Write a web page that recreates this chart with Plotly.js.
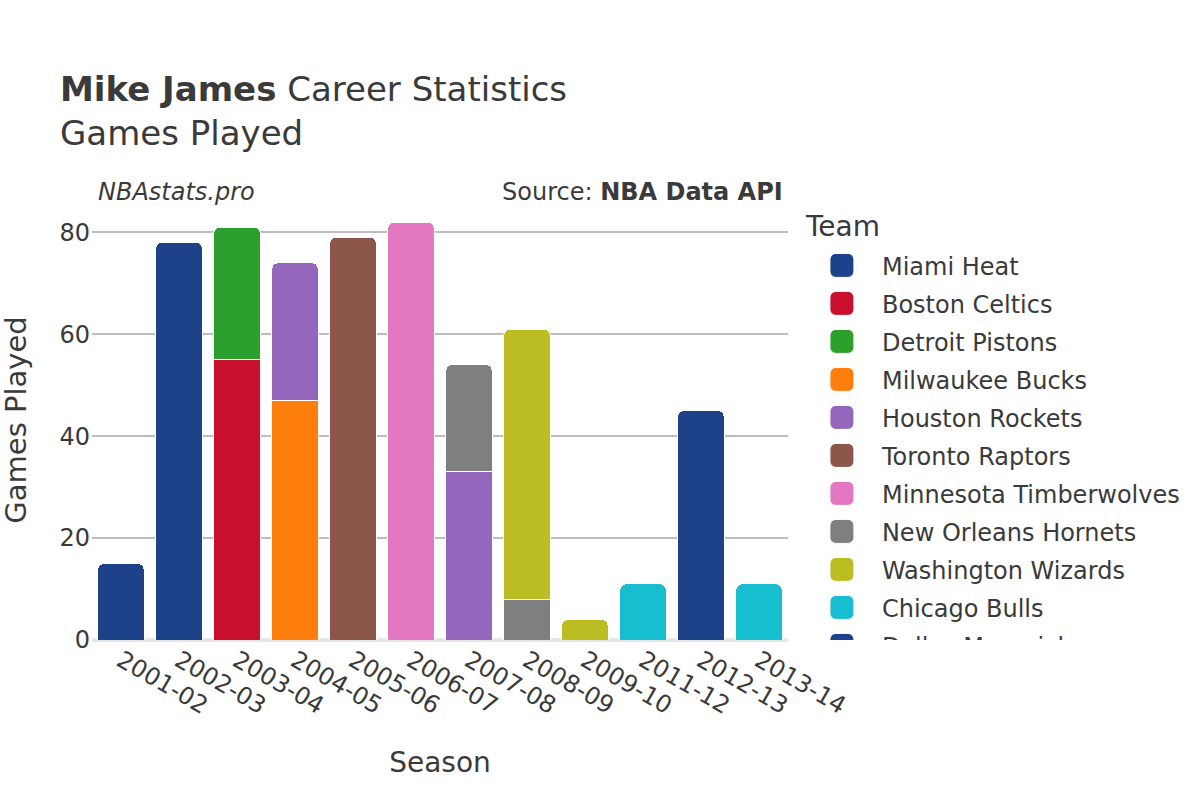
<!DOCTYPE html>
<html>
<head>
<meta charset="utf-8">
<script src="https://cdn.plot.ly/plotly-3.0.1.min.js"></script>
<style>
html,body{margin:0;padding:0;background:#fff;overflow:hidden;}
#wrap{width:1200px;height:800px;}
#chart{width:600px;height:400px;transform:scale(2);transform-origin:0 0;}
</style>
</head>
<body>
<div id="wrap"><div id="chart"></div></div>
<script>
const seasons = ["2001-02","2002-03","2003-04","2004-05","2005-06","2006-07","2007-08","2008-09","2009-10","2011-12","2012-13","2013-14"];
const teams = ["Miami Heat","Boston Celtics","Detroit Pistons","Milwaukee Bucks","Houston Rockets","Toronto Raptors","Minnesota Timberwolves","New Orleans Hornets","Washington Wizards","Chicago Bulls","Dallas Mavericks"];
const teamColors = ["#1D428A","#C8102E","#2CA02C","#FF7F0E","#9467BD","#8C564B","#E377C2","#7F7F7F","#BCBD22","#17BECF","#1D428A"];
// games played per team, one value per season (null = did not play for that team)
const miamiHeat      = [15, 78, null, null, null, null, null, null, null, null, null, null];
const bostonCeltics  = [null, null, 55, null, null, null, null, null, null, null, null, null];
const detroitPistons = [null, null, 26, null, null, null, null, null, null, null, null, null];
const milwaukeeBucks = [null, null, null, 47, null, null, null, null, null, null, null, null];
const houstonRockets = [null, null, null, 27, null, null, 33, null, null, null, null, null];
const torontoRaptors = [null, null, null, null, 79, null, null, null, null, null, null, null];
const minnesotaTW    = [null, null, null, null, null, 82, null, null, null, null, null, null];
const neworleansH    = [null, null, null, null, null, null, 21, 8, null, null, null, null];
const washingtonW    = [null, null, null, null, null, null, null, 53, 4, null, null, null];
const chicagoBulls   = [null, null, null, null, null, null, null, null, null, 11, null, 11];
const dallasMavs     = [null, null, null, null, null, null, null, null, null, null, 45, null];
const teamValues = [miamiHeat, bostonCeltics, detroitPistons, milwaukeeBucks, houstonRockets, torontoRaptors, minnesotaTW, neworleansH, washingtonW, chicagoBulls, dallasMavs];

const font = "DejaVu Sans, sans-serif";
const txt = "#3a3a3a";

const traces = teams.map((t, i) => {
  const xs = [], ys = [];
  teamValues[i].forEach((v, j) => { if (v !== null) { xs.push(seasons[j]); ys.push(v); } });
  return {
    type: "bar", name: t, x: xs, y: ys,
    marker: { color: teamColors[i], line: { color: "#ffffff", width: 0.5 } },
    hovertemplate: "%{x}: %{y}<extra>" + t + "</extra>"
  };
});

const layout = {
  width: 600, height: 400,
  barmode: "stack",
  bargap: 0.2,
  barcornerradius: 3,
  paper_bgcolor: "#ffffff",
  plot_bgcolor: "#ffffff",
  font: { family: font, color: txt, size: 12 },
  margin: { l: 46, r: 206, t: 100, b: 80, autoexpand: false },
  title: {
    text: "<b>Mike James</b> Career Statistics<br>Games Played",
    font: { family: font, size: 17, color: txt },
    x: 0.05, xanchor: "left", xref: "container",
    y: 0.8735, yanchor: "top", yref: "container"
  },
  xaxis: {
    type: "category",
    categoryorder: "array", categoryarray: seasons,
    tickangle: 30,
    tickfont: { size: 12, color: txt },
    title: { text: "Season", font: { size: 14, color: txt }, standoff: 17 },
    showgrid: false,
    showline: false,
    zeroline: false
  },
  yaxis: {
    title: { text: "Games Played", font: { size: 14.5, color: txt }, standoff: 13 },
    tickfont: { size: 12, color: txt },
    gridcolor: "#bdbdbd",
    gridwidth: 1,
    zeroline: true, zerolinecolor: "#e6e6e6", zerolinewidth: 2,
    dtick: 20,
    rangemode: "tozero"
  },
  legend: {
    title: { text: "Team", font: { size: 14, color: txt } },
    font: { size: 12, color: txt },
    traceorder: "normal",
    x: 1.02, xanchor: "left", y: 1, yanchor: "top"
  },
  annotations: [
    { text: "<i>NBAstats.pro</i>", xref: "paper", yref: "paper", x: 0.003, y: 1.018, xanchor: "left", yanchor: "middle", showarrow: false, font: { size: 12, color: txt } },
    { text: "Source: <b>NBA Data API</b>", xref: "paper", yref: "paper", x: 0.997, y: 1.018, xanchor: "right", yanchor: "middle", showarrow: false, font: { size: 12, color: txt } }
  ],
  showlegend: true
};

Plotly.newPlot("chart", traces, layout, { displayModeBar: false, responsive: false, staticPlot: true });
</script>
</body>
</html>
